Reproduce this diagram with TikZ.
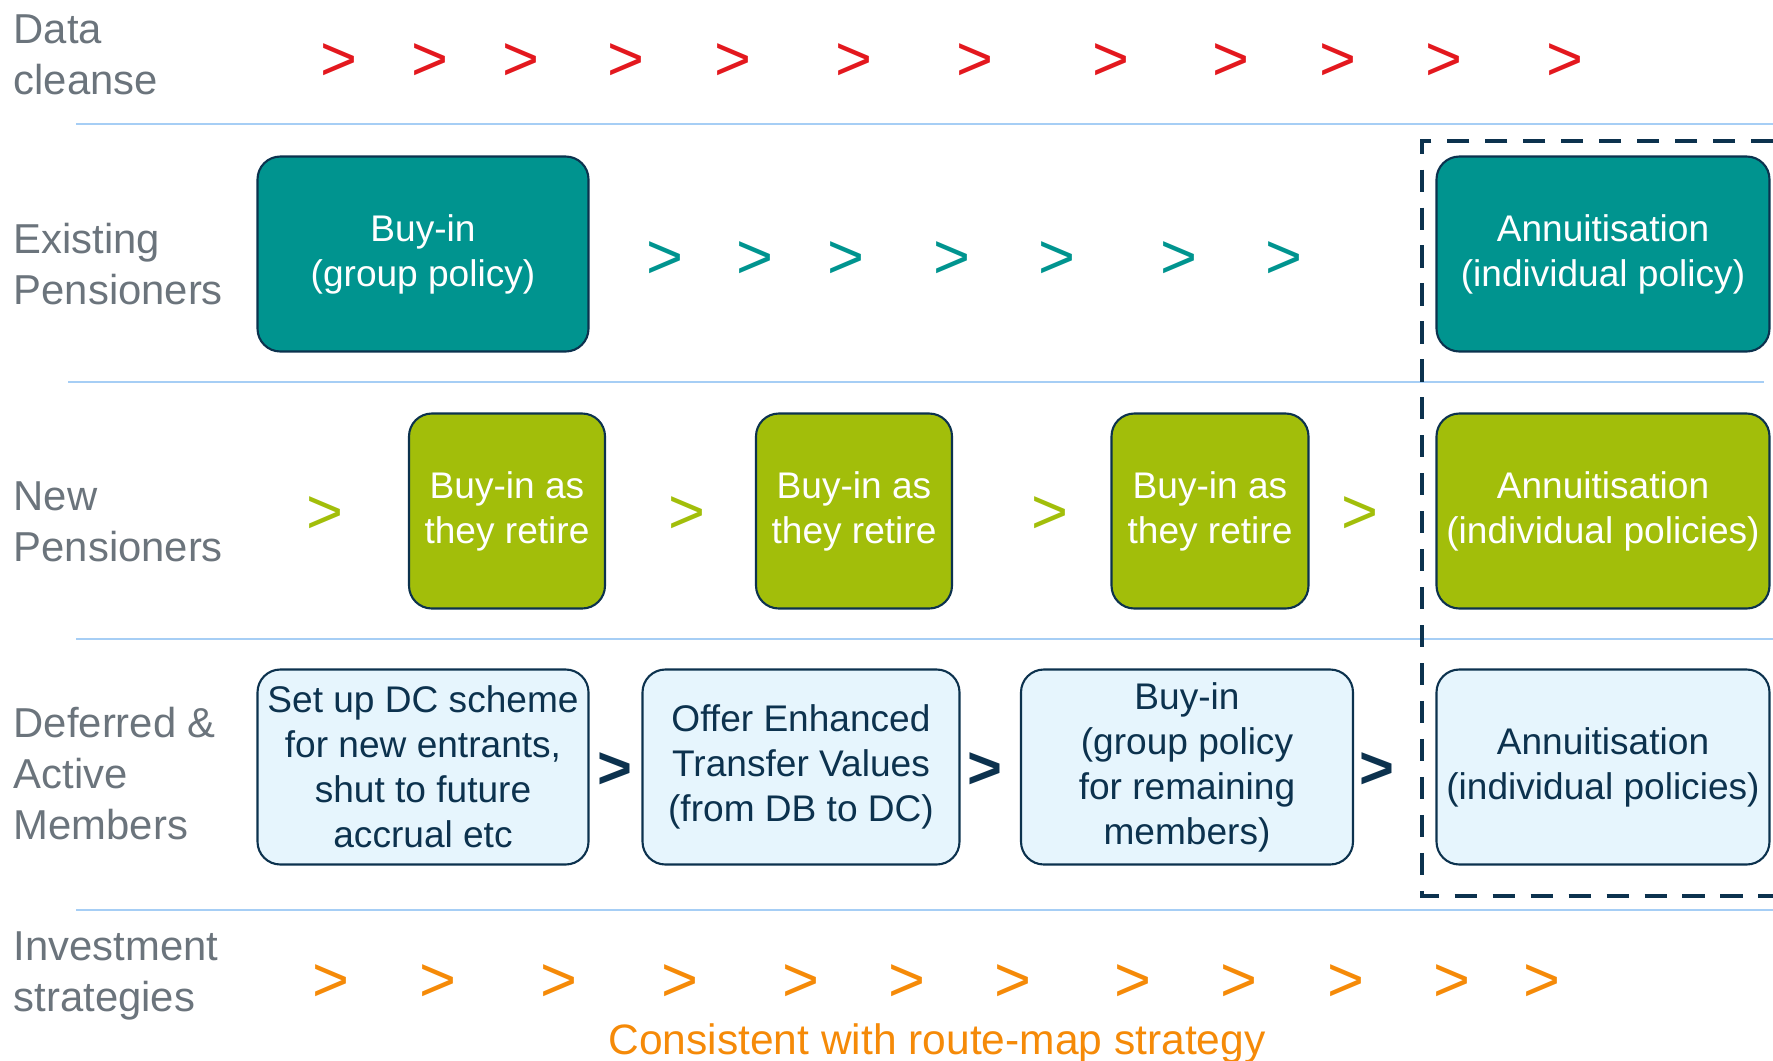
\documentclass[tikz,border=0pt]{standalone}
\usepackage{fontspec}
\setmainfont{Liberation Sans}
\definecolor{slate}{RGB}{107,116,124}
\definecolor{navy}{RGB}{12,50,78}
\definecolor{seateal}{RGB}{0,148,143}
\definecolor{leafgreen}{RGB}{162,190,10}
\definecolor{paleblue}{RGB}{230,245,253}
\definecolor{rulecol}{RGB}{166,206,245}
\definecolor{alarmred}{RGB}{227,24,30}
\definecolor{amber}{RGB}{245,138,8}
\tikzset{
  lane/.style={anchor=west,align=left,text=slate,inner sep=0pt,font=\fontsize{11.9}{14.5}\selectfont},
  card/.style={draw=navy,line width=0.6pt,rounded corners=6.5pt,minimum height=1.95cm,inner sep=1pt,align=center,font=\fontsize{10.55}{12.8}\selectfont},
  tealcard/.style={card,fill=seateal,text=white},
  greencard/.style={card,fill=leafgreen,text=white},
  palecard/.style={card,fill=paleblue,text=navy},
  chev/.style={inner sep=0pt,font=\fontsize{18}{18}\selectfont},
  redchev/.style={chev,text=alarmred},
  tealchev/.style={chev,text=seateal},
  greenchev/.style={chev,text=leafgreen},
  navychev/.style={chev,text=navy,font=\fontsize{17}{17}\selectfont\bfseries},
  amberchev/.style={chev,text=amber},
  sep/.style={draw=rulecol,line width=0.6pt},
  zone/.style={draw=navy,line width=1.3pt,dash pattern=on 6.3pt off 4.5pt}
}

\begin{document}
\begin{tikzpicture}[x=0.1mm,y=0.1mm]
\useasboundingbox (0,0) rectangle (1773,-1061);

% row separators
\draw[sep] (76,-124) -- (1773,-124);
\draw[sep] (68,-382) -- (1764,-382);
\draw[sep] (76,-639) -- (1773,-639);
\draw[sep] (76,-910) -- (1773,-910);

% row titles
\node[lane] (tdata) at (13,-55) {Data\\cleanse};
\node[lane] (texist) at (13,-264) {Existing\\Pensioners};
\node[lane] (tnew) at (13,-522) {New\\Pensioners};
\node[lane] (tdef) at (13,-774) {Deferred \&\\Active\\Members};
\node[lane] (tinv) at (13,-976) {Investment\\strategies};

% data cleanse
\node[redchev] (dc1) at (339,-62) {>};
\node[redchev] (dc2) at (430,-62) {>};
\node[redchev] (dc3) at (521,-62) {>};
\node[redchev] (dc4) at (626,-62) {>};
\node[redchev] (dc5) at (733,-62) {>};
\node[redchev] (dc6) at (854,-62) {>};
\node[redchev] (dc7) at (975,-62) {>};
\node[redchev] (dc8) at (1111,-62) {>};
\node[redchev] (dc9) at (1231,-62) {>};
\node[redchev] (dc10) at (1338,-62) {>};
\node[redchev] (dc11) at (1444,-62) {>};
\node[redchev] (dc12) at (1565,-62) {>};

% existing pensioners
\node[tealcard,minimum width=3.31cm] (exbuy) at (423,-254) {Buy-in\\(group policy)};
\node[tealchev] (ex1) at (665,-260) {>};
\node[tealchev] (ex2) at (755,-260) {>};
\node[tealchev] (ex3) at (846,-260) {>};
\node[tealchev] (ex4) at (952,-260) {>};
\node[tealchev] (ex5) at (1057,-260) {>};
\node[tealchev] (ex6) at (1179,-260) {>};
\node[tealchev] (ex7) at (1284,-260) {>};
\node[tealcard,minimum width=3.33cm] (exann) at (1603,-254) {Annuitisation\\(individual policy)};

% new pensioners
\node[greenchev] (nw1) at (325,-515) {>};
\node[greencard,minimum width=1.96cm] (nwbuy1) at (507,-511) {Buy-in as\\they retire};
\node[greenchev] (nw2) at (687,-515) {>};
\node[greencard,minimum width=1.96cm] (nwbuy2) at (854,-511) {Buy-in as\\they retire};
\node[greenchev] (nw3) at (1050,-515) {>};
\node[greencard,minimum width=1.97cm] (nwbuy3) at (1210,-511) {Buy-in as\\they retire};
\node[greenchev] (nw4) at (1360,-515) {>};
\node[greencard,minimum width=3.33cm] (nwann) at (1603,-511) {Annuitisation\\(individual policies)};

% deferred and active members
\node[palecard,minimum width=3.31cm] (dfdc) at (423,-767) {Set up DC scheme\\for new entrants,\\shut to future\\accrual etc};
\node[navychev] (df1) at (615,-771) {>};
\node[palecard,minimum width=3.17cm] (dfetv) at (801,-767) {Offer Enhanced\\Transfer Values\\(from DB to DC)};
\node[navychev] (df2) at (985,-771) {>};
\node[palecard,minimum width=3.32cm] (dfbuy) at (1187,-767) {Buy-in\\(group policy\\for remaining\\members)};
\node[navychev] (df3) at (1377,-771) {>};
\node[palecard,minimum width=3.33cm] (dfann) at (1603,-767) {Annuitisation\\(individual policies)};

% end state
\draw[zone] (1773,-141) -- (1422,-141) -- (1422,-896) -- (1773,-896);

% investment strategies
\node[amberchev] (iv1) at (331,-983) {>};
\node[amberchev] (iv2) at (438,-983) {>};
\node[amberchev] (iv3) at (559,-983) {>};
\node[amberchev] (iv4) at (680,-983) {>};
\node[amberchev] (iv5) at (801,-983) {>};
\node[amberchev] (iv6) at (907,-983) {>};
\node[amberchev] (iv7) at (1013,-983) {>};
\node[amberchev] (iv8) at (1133,-983) {>};
\node[amberchev] (iv9) at (1239,-983) {>};
\node[amberchev] (iv10) at (1346,-983) {>};
\node[amberchev] (iv11) at (1452,-983) {>};
\node[amberchev] (iv12) at (1542,-983) {>};
\node[text=amber,inner sep=0pt,font=\fontsize{12.1}{14}\selectfont] (ivnote) at (937,-1043) {Consistent with route-map strategy};

\end{tikzpicture}
\end{document}
